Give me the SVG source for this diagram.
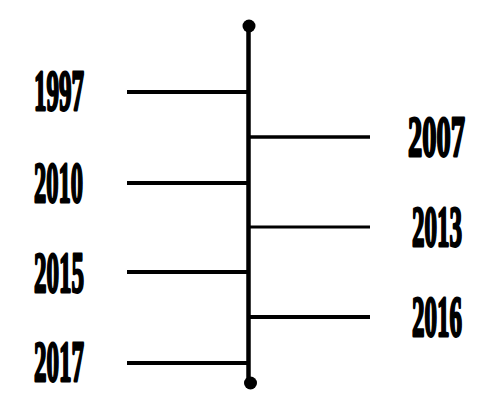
<svg xmlns="http://www.w3.org/2000/svg" width="502" height="417" viewBox="0 0 502 417">
<style>
.bg{fill:#fff}
.ln{stroke:#000;fill:none;stroke-linecap:butt}
.dot{fill:#000}
.yr{font-family:"Liberation Serif",serif;font-weight:bold;font-size:57px;fill:#000;stroke:#000;stroke-width:2.2px;stroke-linejoin:round;vector-effect:non-scaling-stroke}
</style>
<rect class="bg" x="0" y="0" width="502" height="417"/>
<g id="connectors">
<line class="ln" x1="248.5" y1="25" x2="248.5" y2="383" stroke-width="4.5"/>
<line class="ln" x1="127" y1="92" x2="248" y2="92" stroke-width="4"/>
<line class="ln" x1="127" y1="183" x2="247" y2="183" stroke-width="4"/>
<line class="ln" x1="127" y1="272" x2="248" y2="272" stroke-width="4"/>
<line class="ln" x1="127" y1="363" x2="248" y2="363" stroke-width="4"/>
<line class="ln" x1="250" y1="137" x2="370" y2="137" stroke-width="3.5"/>
<line class="ln" x1="250" y1="227" x2="370" y2="227" stroke-width="3"/>
<line class="ln" x1="250" y1="317" x2="370" y2="317" stroke-width="4"/>
</g>
<g id="start"><circle class="dot" cx="249" cy="26" r="6.5"/></g>
<g id="end"><circle class="dot" cx="250.5" cy="383" r="6.5"/></g>
<g id="y1997"><text class="yr" transform="translate(34,110) scale(0.44,1)">1997</text></g>
<g id="y2010"><text class="yr" transform="translate(34,202) scale(0.43,1)">2010</text></g>
<g id="y2015"><text class="yr" transform="translate(34,292) scale(0.44,1)">2015</text></g>
<g id="y2017"><text class="yr" transform="translate(34,381) scale(0.44,1)">2017</text></g>
<g id="y2007"><text class="yr" transform="translate(408,156) scale(0.5,1)">2007</text></g>
<g id="y2013"><text class="yr" transform="translate(412,246) scale(0.44,1)">2013</text></g>
<g id="y2016"><text class="yr" transform="translate(412,336) scale(0.44,1)">2016</text></g>
</svg>
